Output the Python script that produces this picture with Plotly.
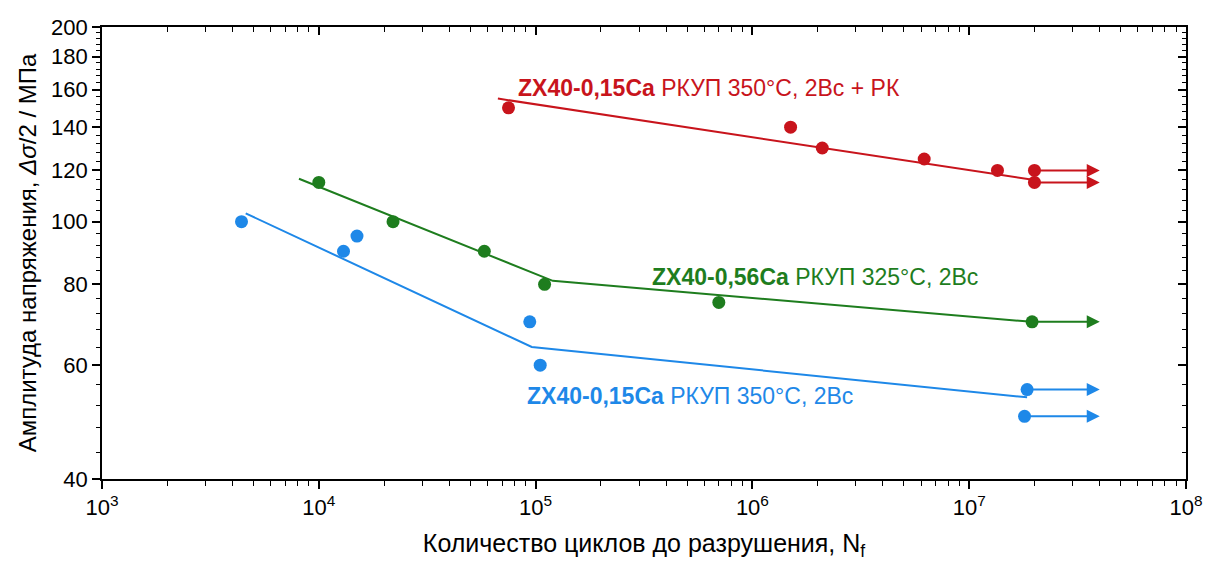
import numpy as np
import plotly.graph_objects as go

# ---- data ----
red_N = [7.5e4, 1.5e6, 2.1e6, 6.2e6, 1.35e7, 2.0e7, 2.0e7]
red_S = [150, 140, 130, 125, 120, 120, 115]
red_fit_N = [6.7e4, 2.0e7]
red_fit_S = [155, 116]
red_runout_N = [2.0e7, 2.0e7]
red_runout_S = [120, 115]

green_N = [1.0e4, 2.2e4, 5.8e4, 1.1e5, 7.0e5, 1.95e7]
green_S = [115, 100, 90, 80, 75, 70]
green_fit_N = [8.1e3, 1.2e5, 1.95e7]
green_fit_S = [116.5, 81, 70]
green_runout_N = [1.95e7]
green_runout_S = [70]

blue_N = [4.4e3, 1.3e4, 1.5e4, 9.4e4, 1.05e5, 1.85e7, 1.8e7]
blue_S = [100, 90, 95, 70, 60, 55, 50]
blue_fit_N = [4.6e3, 9.6e4, 1.85e7]
blue_fit_S = [103, 64, 53.5]
blue_runout_N = [1.85e7, 1.8e7]
blue_runout_S = [55, 50]

runout_end_N = 4.0e7

x_ticks = [1e3, 1e4, 1e5, 1e6, 1e7, 1e8]
x_ticktext = ["10<sup>3</sup>", "10<sup>4</sup>", "10<sup>5</sup>", "10<sup>6</sup>",
              "10<sup>7</sup>", "10<sup>8</sup>"]
x_minor = [m * 10 ** d for d in range(3, 8) for m in range(2, 10)]
y_ticks = [40, 60, 80, 100, 120, 140, 160, 180, 200]
y_minor = [v for v in range(44, 200, 4) if v % 20 != 0]

RED = "#C8141C"
GREEN = "#1E7D1E"
BLUE = "#1E88E8"
FONT = "Liberation Sans, Arial, sans-serif"

series = [
    (red_N, red_S, red_fit_N, red_fit_S, red_runout_N, red_runout_S, RED),
    (green_N, green_S, green_fit_N, green_fit_S, green_runout_N, green_runout_S, GREEN),
    (blue_N, blue_S, blue_fit_N, blue_fit_S, blue_runout_N, blue_runout_S, BLUE),
]

fig = go.Figure()
annotations = []
for N, S, fN, fS, rN, rS, col in series:
    fig.add_trace(go.Scatter(x=fN, y=fS, mode="lines", line=dict(color=col, width=2),
                             showlegend=False, hoverinfo="skip"))
    fig.add_trace(go.Scatter(x=N, y=S, mode="markers",
                             marker=dict(color=col, size=13), showlegend=False))
    for n0, s0 in zip(rN, rS):
        annotations.append(dict(
            x=np.log10(runout_end_N), y=np.log10(s0), ax=np.log10(n0), ay=np.log10(s0),
            xref="x", yref="y", axref="x", ayref="y", text="", showarrow=True,
            arrowhead=2, arrowsize=1.3, arrowwidth=2, arrowcolor=col, standoff=0))

# invisible trace to bring up mirrored axes (top/right, inward ticks)
fig.add_trace(go.Scatter(x=[1e3], y=[40], xaxis="x2", yaxis="y2", mode="markers",
                         marker=dict(opacity=0), showlegend=False, hoverinfo="skip"))

labels = [
    ("<b>ZX40-0,15Ca</b> РКУП 350°C, 2Вс + РК", 8.3e4, 161, RED),
    ("<b>ZX40-0,56Ca</b> РКУП 325°C, 2Вс", 3.44e5, 82, GREEN),
    ("<b>ZX40-0,15Ca</b> РКУП 350°C, 2Вс", 9.1e4, 53.8, BLUE),
]
for txt, xx, yy, col in labels:
    annotations.append(dict(x=np.log10(xx), y=np.log10(yy), xref="x", yref="y",
                            text=txt, showarrow=False, xanchor="left", yanchor="middle",
                            xshift=-2, font=dict(size=23, color=col, family=FONT)))

xr = [3, 8]
yr = [np.log10(40), np.log10(200)]

fig.update_layout(
    template="none",
    width=1205, height=561,
    margin=dict(l=102, r=19, t=27, b=82),
    paper_bgcolor="white", plot_bgcolor="white",
    font=dict(family=FONT, color="black"),
    annotations=annotations,
    xaxis=dict(
        type="log", range=xr, automargin=False, ticklabeloverflow="allow",
        tickvals=x_ticks, ticktext=x_ticktext,
        ticks="outside", ticklen=8, tickwidth=1.5, tickcolor="black",
        minor=dict(ticks="outside", ticklen=5, tickwidth=1.2, tickcolor="black", tickvals=x_minor),
        showline=True, linecolor="black", linewidth=1.8,
        showgrid=False, zeroline=False,
        tickfont=dict(size=22),
        title=dict(text="Количество циклов до разрушения, N<sub>f</sub>", font=dict(size=25), standoff=15),
    ),
    yaxis=dict(
        type="log", range=yr, automargin=False, ticklabeloverflow="allow",
        tickvals=y_ticks, ticktext=[str(v) for v in y_ticks],
        ticks="outside", ticklen=8, tickwidth=1.5, tickcolor="black",
        minor=dict(ticks="outside", ticklen=4, tickwidth=1.2, tickcolor="black", tickvals=y_minor),
        showline=True, linecolor="black", linewidth=1.8,
        showgrid=False, zeroline=False,
        tickfont=dict(size=22),
        title=dict(text="Амплитуда напряжения, <i>Δσ</i>/2 / МПа", font=dict(size=24), standoff=8),
    ),
    xaxis2=dict(
        type="log", range=xr, overlaying="x", side="top", anchor="y2", automargin=False,
        tickvals=x_ticks, showticklabels=False,
        ticks="inside", ticklen=8, tickwidth=1.5, tickcolor="black",
        minor=dict(ticks="inside", ticklen=5, tickwidth=1.2, tickcolor="black", tickvals=x_minor),
        showline=True, linecolor="black", linewidth=1.8,
        showgrid=False, zeroline=False,
    ),
    yaxis2=dict(
        type="log", range=yr, overlaying="y", side="right", anchor="x2", automargin=False,
        tickvals=y_ticks, showticklabels=False,
        ticks="inside", ticklen=8, tickwidth=1.5, tickcolor="black",
        minor=dict(ticks="inside", ticklen=4, tickwidth=1.2, tickcolor="black", tickvals=y_minor),
        showline=True, linecolor="black", linewidth=1.8,
        showgrid=False, zeroline=False,
    ),
)

fig.write_html("out.html", config={"displayModeBar": False},
               post_script="document.body.style.margin='0';document.body.style.overflow='hidden';")
